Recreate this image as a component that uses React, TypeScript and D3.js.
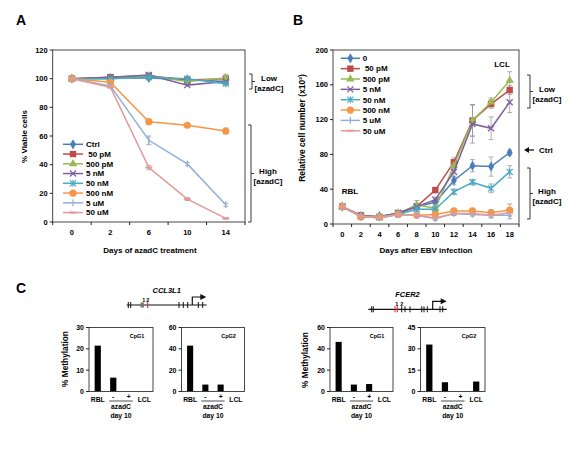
import React from "react";
import * as d3 from "d3";

// ---------- Panel A data ----------
const daysA = ["0", "2", "6", "10", "14"];
const yTicksA = [0, 20, 40, 60, 80, 100, 120];
const namesA = ["Ctrl", " 50 pM", "500 pM", "5 nM", "50 nM", "500 nM", "5 uM", "50 uM"];
const ctrlA = [100, 100.5, 100.5, 99.5, 98];
const pm50A = [100, 101, 102, 99, 100];
const pm500A = [100, 100, 102, 98, 100.5];
const nm5A = [100, 101, 102.5, 95.5, 98];
const nm50A = [100, 100, 101, 100, 96.5];
const nm500A = [100, 97.5, 70, 67.5, 63.5];
const um5A = [100, 95, 57, 40.5, 12];
const um50A = [100, 94, 38, 16, 2.5];
const errCtrlA = [0, 0.5, 1, 1, 1];
const errPm50A = [0, 0.5, 1, 1, 3];
const errPm500A = [0, 0.5, 1, 1, 1];
const errNm5A = [0, 0.5, 1, 1, 1];
const errNm50A = [0, 0.5, 1, 1, 1];
const errNm500A = [0, 0.5, 1, 1, 2];
const errUm5A = [0, 0.5, 3, 1, 1];
const errUm50A = [0, 0.5, 1.5, 1, 0.5];

// ---------- Panel B data ----------
const daysB = ["0", "2", "4", "6", "8", "10", "12", "14", "16", "18"];
const yTicksB = [0, 40, 80, 120, 160, 200];
const namesB = ["0", " 50 pM", "500 pM", "5 nM", "50 nM", "500 nM", "5 uM", "50 uM"];
const ctrlB = [20, 9, 9, 12, 20, 25, 50, 67, 66, 82];
const pm50B = [20, 10, 8, 12, 20, 39, 71, 119, 138, 154];
const pm500B = [20, 9, 8, 12, 22, 18, 67, 119, 140, 165];
const nm5B = [20, 9, 8, 13, 20, 28, 60, 115, 110, 140];
const nm50B = [20, 9, 8, 11, 17, 17, 37, 48, 41, 60];
const nm500B = [20, 8, 8, 11, 10, 11, 15, 15, 13, 16];
const um5B = [20, 9, 7, 11, 10, 6, 12, 11, 10, 10];
const um50B = [20, 9, 7, 11, 10, 7, 12, 12, 10, 13];
const errCtrlB = [0, 1, 1, 1, 2, 3, 5, 7, 11, 3];
const errPm50B = [0, 2, 1, 1, 3, 3, 5, 18, 5, 5];
const errPm500B = [0, 2, 1, 1, 5, 3, 6, 18, 5, 10];
const errNm5B = [0, 2, 1, 1, 3, 3, 6, 22, 13, 12];
const errNm50B = [0, 1, 1, 1, 2, 2, 3, 3, 5, 7];
const errNm500B = [0, 1, 1, 1, 1, 3, 2, 2, 3, 7];
const errUm5B = [0, 1, 1, 1, 1, 2, 2, 2, 2, 4];
const errUm50B = [0, 1, 1, 1, 1, 2, 2, 2, 3, 3];

// ---------- Panel C data ----------
const groupsC = ["RBL", "-", "+", "LCL"];
const ccl3l1CpG1 = [21.5, 6.5, 0, 0];
const ccl3l1CpG2 = [43, 6.5, 6.5, 0];
const fcer2CpG1 = [46.5, 6.5, 7, 0];
const fcer2CpG2 = [33, 6.5, 0, 7];
const ticksCcl1 = [0, 10, 20, 30];
const ticksCcl2 = [0, 20, 40, 60];
const ticksFc1 = [0, 20, 40, 60];
const ticksFc2 = [0, 15, 30, 45];
// gene diagram site positions (relative units along the drawn locus)
const ccl3l1Sites = [1.6, 4, 52.3, 56.6, 61, 71.6, 76];
const ccl3l1Red = [21];
const ccl3l1Grey = [15.5];
const ccl3l1Tss = 65.6;
const fcer2Sites = [3.4, 5, 33.4, 36.7, 41.7, 53.4, 55.7, 59, 71.7, 74.4];
const fcer2Red = [26.7, 29];
const fcer2Tss = 64.4;

// ---------- styles ----------
const colors = ["#4a7ebb", "#be4b48", "#98b954", "#7d60a0", "#46aac5", "#f79646", "#8fb0dc", "#e29a98"];
const markers = ["diamond", "square", "triangle", "x", "star", "circle", "plus", "dash"];
const FONT = "'Liberation Sans', Arial, sans-serif";

function Marker({ kind, x, y, color }: { kind: string; x: number; y: number; color: string }) {
  const t = `translate(${x},${y})`;
  switch (kind) {
    case "diamond":
      return <path transform={t} d={d3.symbol(d3.symbolDiamond, 30)() as string} fill={color} />;
    case "square":
      return <rect x={x - 3.2} y={y - 3.2} width={6.4} height={6.4} fill={color} />;
    case "triangle":
      return <path transform={t} d={d3.symbol(d3.symbolTriangle, 30)() as string} fill={color} />;
    case "x":
      return (
        <g stroke={color} strokeWidth={1.3}>
          <line x1={x - 3} y1={y - 3} x2={x + 3} y2={y + 3} />
          <line x1={x - 3} y1={y + 3} x2={x + 3} y2={y - 3} />
        </g>
      );
    case "star":
      return (
        <g stroke={color} strokeWidth={1.2}>
          <line x1={x - 3} y1={y - 3} x2={x + 3} y2={y + 3} />
          <line x1={x - 3} y1={y + 3} x2={x + 3} y2={y - 3} />
          <line x1={x} y1={y - 3.5} x2={x} y2={y + 3.5} />
        </g>
      );
    case "circle":
      return <circle cx={x} cy={y} r={3.6} fill={color} />;
    case "plus":
      return <line x1={x} y1={y - 3.5} x2={x} y2={y + 3.5} stroke={color} strokeWidth={1.2} />;
    case "dash":
      return <line x1={x - 3.5} y1={y} x2={x + 3.5} y2={y} stroke={color} strokeWidth={2} />;
    default:
      return null;
  }
}

type Series = { name: string; values: number[]; err: number[] };

function LineChart(props: {
  left: number; right: number; top: number; bottom: number;
  cats: string[]; yMax: number; yTicks: number[]; series: Series[];
  legX0: number; legX1: number; legTextX: number; legY0: number; legDy: number;
}) {
  const { left, right, top, bottom, cats, yMax, yTicks, series } = props;
  const x = d3.scalePoint<string>().domain(cats).range([left, right]).padding(0.5);
  const y = d3.scaleLinear().domain([0, yMax]).range([bottom, top]);
  const step = x.step();
  const line = d3.line<number>().x((_, i) => x(cats[i]) as number).y((d) => y(d));
  return (
    <g fontFamily={FONT} fontWeight="bold">
      <rect x={left} y={top} width={right - left} height={bottom - top} fill="none" stroke="#333" strokeWidth={0.9} />
      {yTicks.map((t) => (
        <g key={t}>
          <line x1={left - 3} x2={left} y1={y(t)} y2={y(t)} stroke="#222" />
          <text x={left - 5} y={y(t)} dy="0.35em" textAnchor="end" fontSize={7.5}>{t}</text>
        </g>
      ))}
      {d3.range(cats.length + 1).map((i) => (
        <line key={i} x1={left + i * step} x2={left + i * step} y1={bottom} y2={bottom + 3} stroke="#222" />
      ))}
      {cats.map((c) => (
        <text key={c} x={x(c)} y={bottom + 12.5} textAnchor="middle" fontSize={7.5}>{c}</text>
      ))}
      {series.map((s, si) => (
        <g key={si}>
          {s.values.map((v, i) =>
            s.err[i] > 0 ? (
              <g key={i} stroke="#999" strokeWidth={0.8}>
                <line x1={x(cats[i])} x2={x(cats[i])} y1={y(v + s.err[i])} y2={y(v - s.err[i])} />
                <line x1={(x(cats[i]) as number) - 2.5} x2={(x(cats[i]) as number) + 2.5} y1={y(v + s.err[i])} y2={y(v + s.err[i])} />
                <line x1={(x(cats[i]) as number) - 2.5} x2={(x(cats[i]) as number) + 2.5} y1={y(v - s.err[i])} y2={y(v - s.err[i])} />
              </g>
            ) : null
          )}
        </g>
      ))}
      {series.map((s, si) => (
        <g key={si}>
          <path d={line(s.values) as string} fill="none" stroke={colors[si]} strokeWidth={1.5} />
          {s.values.map((v, i) => (
            <Marker key={i} kind={markers[si]} x={x(cats[i]) as number} y={y(v)} color={colors[si]} />
          ))}
        </g>
      ))}
      {series.map((s, si) => {
        const ly = props.legY0 + si * props.legDy;
        return (
          <g key={si}>
            <line x1={props.legX0} x2={props.legX1} y1={ly} y2={ly} stroke={colors[si]} strokeWidth={1.5} />
            <Marker kind={markers[si]} x={(props.legX0 + props.legX1) / 2} y={ly} color={colors[si]} />
            <text x={props.legTextX} y={ly} dy="0.35em" fontSize={8} style={{ whiteSpace: "pre" }}>{s.name}</text>
          </g>
        );
      })}
    </g>
  );
}

function Bracket({ x, y1, y2, top, bottom, tx, ty1 }: { x: number; y1: number; y2: number; top: string; bottom: string; tx: number; ty1: number }) {
  const mid = (y1 + y2) / 2;
  return (
    <g fontFamily={FONT} fontWeight="bold">
      <path d={`M${x - 3},${y1}H${x}V${y2}H${x - 3}M${x},${mid}H${x + 3}`} fill="none" stroke="#222" strokeWidth={0.9} />
      <text x={tx} y={ty1} dy="0.35em" textAnchor="middle" fontSize={8}>{top}</text>
      <text x={tx} y={ty1 + 10} dy="0.35em" textAnchor="middle" fontSize={8}>{bottom}</text>
    </g>
  );
}

function BarChart(props: { left: number; right: number; top: number; bottom: number; yMax: number; yTicks: number[]; values: number[]; label: string }) {
  const { left, right, top, bottom, yMax, yTicks, values, label } = props;
  const x = d3.scaleBand<string>().domain(groupsC).range([left + 1, right - 1]).paddingInner(0.6).paddingOuter(0.3);
  const y = d3.scaleLinear().domain([0, yMax]).range([bottom, top]);
  const cx = (g: string) => (x(g) as number) + x.bandwidth() / 2;
  return (
    <g fontFamily={FONT} fontWeight="bold">
      {values.map((v, i) => (
        <rect key={i} x={x(groupsC[i])} y={y(v)} width={x.bandwidth()} height={bottom - y(v)} fill="#000" />
      ))}
      <rect x={left} y={top} width={right - left} height={bottom - top} fill="none" stroke="#333" strokeWidth={0.9} />
      {yTicks.map((t) => (
        <g key={t}>
          <line x1={left - 3} x2={left} y1={y(t)} y2={y(t)} stroke="#222" />
          <text x={left - 5} y={y(t)} dy="0.35em" textAnchor="end" fontSize={7}>{t}</text>
        </g>
      ))}
      <text x={right - 16} y={top + 9} dy="0.35em" textAnchor="middle" fontSize={5.5}>{label}</text>
      <text x={cx(groupsC[0])} y={bottom + 10} textAnchor="middle" fontSize={6.8}>{groupsC[0]}</text>
      <text x={cx(groupsC[1])} y={bottom + 7} textAnchor="middle" fontSize={6.8}>{groupsC[1]}</text>
      <text x={cx(groupsC[2])} y={bottom + 7} textAnchor="middle" fontSize={6.8}>{groupsC[2]}</text>
      <text x={cx(groupsC[3])} y={bottom + 10} textAnchor="middle" fontSize={6.8}>{groupsC[3]}</text>
      <line x1={cx(groupsC[1]) - 4} x2={cx(groupsC[2]) + 4} y1={bottom + 9.5} y2={bottom + 9.5} stroke="#222" strokeWidth={0.8} />
      <text x={(cx(groupsC[1]) + cx(groupsC[2])) / 2} y={bottom + 17.5} textAnchor="middle" fontSize={6.8}>azadC</text>
      <text x={(cx(groupsC[1]) + cx(groupsC[2])) / 2} y={bottom + 26} textAnchor="middle" fontSize={6.8}>day 10</text>
    </g>
  );
}

function Gene(props: { name: string; x0: number; x1: number; y: number; span: number; sites: number[]; red: number[]; grey: number[]; tss: number; labX: number[] }) {
  const s = d3.scaleLinear().domain([0, props.span]).range([props.x0, props.x1]);
  const { y } = props;
  const tx = s(props.tss);
  return (
    <g fontFamily={FONT} fontWeight="bold">
      <text x={(props.x0 + props.x1) / 2} y={y - 12} textAnchor="middle" fontSize={7.5} fontStyle="italic">{props.name}</text>
      <line x1={props.x0} x2={props.x1} y1={y} y2={y} stroke="#111" strokeWidth={1.2} />
      {props.sites.map((p, i) => (
        <line key={i} x1={s(p)} x2={s(p)} y1={y - 3} y2={y + 3} stroke="#111" strokeWidth={1} />
      ))}
      {props.grey.map((p, i) => (
        <rect key={i} x={s(p) - 1.7} y={y - 2.5} width={3.4} height={5} fill="#777" />
      ))}
      {props.red.map((p, i) => (
        <line key={i} x1={s(p)} x2={s(p)} y1={y - 3} y2={y + 3} stroke="#e03030" strokeWidth={1.1} />
      ))}
      {props.labX.map((p, i) => (
        <text key={i} x={s(p)} y={y - 3.5} textAnchor="middle" fontSize={5.5}>{i + 1}</text>
      ))}
      <path d={`M${tx},${y}V${y - 8}H${tx + 9}`} fill="none" stroke="#111" strokeWidth={1.2} />
      <path d={`M${tx + 8},${y - 11}L${tx + 14},${y - 8}L${tx + 8},${y - 5}Z`} fill="#111" />
    </g>
  );
}

export default function App() {
  const seriesA: Series[] = [
    { name: namesA[0], values: ctrlA, err: errCtrlA },
    { name: namesA[1], values: pm50A, err: errPm50A },
    { name: namesA[2], values: pm500A, err: errPm500A },
    { name: namesA[3], values: nm5A, err: errNm5A },
    { name: namesA[4], values: nm50A, err: errNm50A },
    { name: namesA[5], values: nm500A, err: errNm500A },
    { name: namesA[6], values: um5A, err: errUm5A },
    { name: namesA[7], values: um50A, err: errUm50A },
  ];
  const seriesB: Series[] = [
    { name: namesB[0], values: ctrlB, err: errCtrlB },
    { name: namesB[1], values: pm50B, err: errPm50B },
    { name: namesB[2], values: pm500B, err: errPm500B },
    { name: namesB[3], values: nm5B, err: errNm5B },
    { name: namesB[4], values: nm50B, err: errNm50B },
    { name: namesB[5], values: nm500B, err: errNm500B },
    { name: namesB[6], values: um5B, err: errUm5B },
    { name: namesB[7], values: um50B, err: errUm50B },
  ];
  return (
    <svg width={585} height={455} style={{ position: "absolute", left: 0, top: 0, background: "#fff" }} fontFamily={FONT}>
      <rect width={585} height={455} fill="#fff" />
      {/* Panel letters */}
      <g fontFamily={FONT} fontWeight="bold" fontSize={14}>
        <text x={16} y={25}>A</text>
        <text x={293} y={25}>B</text>
        <text x={16} y={292.5}>C</text>
      </g>

      {/* Panel A */}
      <LineChart left={52.7} right={245} top={50} bottom={222} cats={daysA} yMax={120} yTicks={yTicksA}
        series={seriesA} legX0={63} legX1={83} legTextX={86} legY0={144.3} legDy={9.75} />
      <text transform="translate(27,136.5) rotate(-90)" textAnchor="middle" fontSize={8} fontWeight="bold" fontFamily={FONT}>% Viable cells</text>
      <text x={150} y={252.5} textAnchor="middle" fontSize={8} fontWeight="bold" fontFamily={FONT}>Days of azadC treatment</text>
      <Bracket x={252} y1={74} y2={89} top="Low" bottom="[azadC]" tx={269} ty1={78.5} />
      <Bracket x={251} y1={125} y2={222} top="High" bottom="[azadC]" tx={268} ty1={171} />

      {/* Panel B */}
      <LineChart left={333} right={519} top={50} bottom={224} cats={daysB} yMax={200} yTicks={yTicksB}
        series={seriesB} legX0={340.7} legX1={360} legTextX={362.7} legY0={58.3} legDy={10.35} />
      <text transform="translate(305,128) rotate(-90)" textAnchor="middle" fontSize={8.5} fontWeight="bold" fontFamily={FONT}>Relative cell number (x10²)</text>
      <text x={426} y={252.5} textAnchor="middle" fontSize={8} fontWeight="bold" fontFamily={FONT}>Days after EBV infection</text>
      <text x={502} y={64} dy="0.35em" textAnchor="middle" fontSize={8} fontWeight="bold" fontFamily={FONT}>LCL</text>
      <text x={350} y={191} dy="0.35em" textAnchor="middle" fontSize={8} fontWeight="bold" fontFamily={FONT}>RBL</text>
      <Bracket x={530} y1={75} y2={108} top="Low" bottom="[azadC]" tx={547} ty1={89} />
      <Bracket x={530} y1={168} y2={219} top="High" bottom="[azadC]" tx={547} ty1={191} />
      <line x1={534} x2={528} y1={150} y2={150} stroke="#111" strokeWidth={1.3} />
      <path d="M524,150L529,147L529,153Z" fill="#111" />
      <text x={539} y={150} dy="0.35em" fontSize={8} fontWeight="bold" fontFamily={FONT}>Ctrl</text>

      {/* Panel C */}
      <Gene name="CCL3L1" x0={126.7} x1={206.7} y={305} span={80} sites={ccl3l1Sites} red={ccl3l1Red} grey={ccl3l1Grey} tss={ccl3l1Tss} labX={[17, 21]} />
      <Gene name="FCER2" x0={368.3} x1={446.7} y={309.3} span={78.4} sites={fcer2Sites} red={fcer2Red} grey={[]} tss={fcer2Tss} labX={[28.4, 33.4]} />
      <text transform="translate(68,359) rotate(-90)" textAnchor="middle" fontSize={8.3} fontWeight="bold" fontFamily={FONT}>% Methylation</text>
      <text transform="translate(308,360) rotate(-90)" textAnchor="middle" fontSize={8.3} fontWeight="bold" fontFamily={FONT}>% Methylation</text>
      <BarChart left={89} right={153} top={327.5} bottom={391.5} yMax={30} yTicks={ticksCcl1} values={ccl3l1CpG1} label="CpG1" />
      <BarChart left={181.5} right={244.5} top={327.5} bottom={391.5} yMax={60} yTicks={ticksCcl2} values={ccl3l1CpG2} label="CpG2" />
      <BarChart left={330} right={393} top={327.5} bottom={391.5} yMax={60} yTicks={ticksFc1} values={fcer2CpG1} label="CpG1" />
      <BarChart left={420.5} right={485} top={327.5} bottom={391.5} yMax={45} yTicks={ticksFc2} values={fcer2CpG2} label="CpG2" />
    </svg>
  );
}
